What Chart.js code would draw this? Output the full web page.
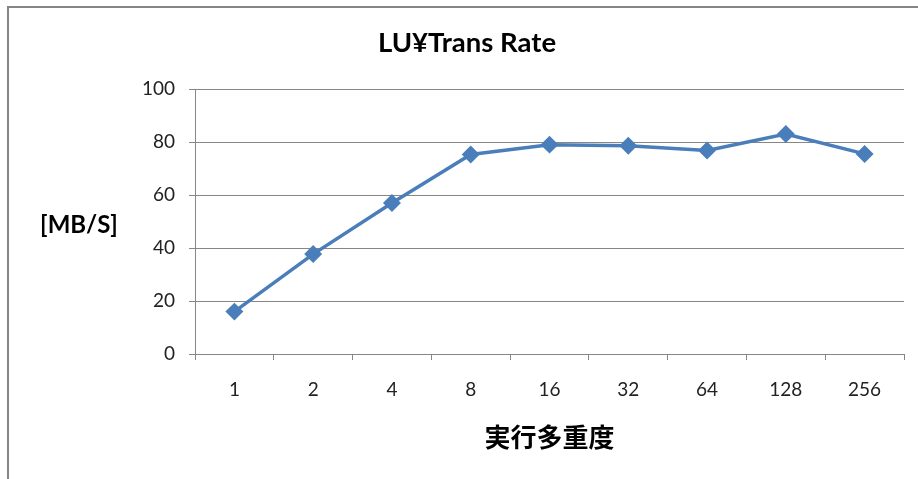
<!DOCTYPE html>
<html>
<head>
<meta charset="utf-8">
<script src="https://cdn.jsdelivr.net/npm/chart.js@4"></script>
<style>
  html, body { margin: 0; padding: 0; background: #fff; }
  #wrap { position: relative; width: 918px; height: 479px; }
  #frame {
    position: absolute; left: 7px; top: 6px; right: -4px; bottom: -4px;
    border-top: 2px solid #868686; border-left: 2px solid #868686;
  }
  canvas { position: absolute; left: 0; top: 0; }
</style>
</head>
<body>
<div id="wrap">
  <div id="frame"></div>
  <canvas id="chart" width="918" height="479"></canvas>
</div>
<script>
const categories = ["1", "2", "4", "8", "16", "32", "64", "128", "256"];
const transRate = [16, 37.7, 57, 75.3, 79, 78.6, 76.8, 83, 75.5];
const yTicks = [0, 20, 40, 60, 80, 100];

const latin = "Lato, 'Noto Sans', sans-serif";
const cjk = "'Noto Sans CJK JP', sans-serif";

// y axis caption is horizontal in the original, so draw it by hand
const yCaption = {
  id: "yCaption",
  afterDraw(chart) {
    const ctx = chart.ctx;
    ctx.save();
    ctx.font = "bold 24px " + latin;
    ctx.fillStyle = "#000";
    ctx.textAlign = "center";
    ctx.textBaseline = "middle";
    ctx.fillText("[MB/S]", 79, 225);
    ctx.restore();
  },
};

const ctx = document.getElementById("chart").getContext("2d");
new Chart(ctx, {
  type: "line",
  data: {
    labels: categories,
    datasets: [
      {
        label: "LU¥Trans Rate",
        data: transRate,
        borderColor: "#4a7ebb",
        backgroundColor: "#4a7ebb",
        borderWidth: 3.5,
        pointStyle: "rectRot",
        pointRadius: 6.5,
        pointHoverRadius: 6.5,
        tension: 0,
      },
    ],
  },
  plugins: [yCaption],
  options: {
    responsive: false,
    animation: false,
    layout: { padding: { left: 30, right: 14, top: 27, bottom: 0 } },
    plugins: {
      legend: { display: false },
      tooltip: { enabled: false },
      title: {
        display: true,
        text: "LU¥Trans Rate",
        color: "#000",
        font: { family: latin, size: 27.5, weight: "bold", lineHeight: 1.2 },
        padding: { top: 0, bottom: 29 },
      },
    },
    scales: {
      x: {
        afterFit: (s) => { s.height = 125; },
        offset: true,
        grid: {
          offset: true,
          drawOnChartArea: false,
          tickLength: 6,
          color: "#868686",
        },
        border: { color: "#868686", width: 1 },
        ticks: {
          color: "#222",
          padding: 18,
          font: { family: latin, size: 19 },
        },
        title: {
          display: true,
          text: "実行多重度",
          color: "#000",
          font: { family: cjk, size: 26, weight: "bold", lineHeight: 1.2 },
          padding: { top: 0, bottom: 26 },
        },
      },
      y: {
        min: 0,
        max: 100,
        afterFit: (s) => { s.width = 165; },
        afterBuildTicks: (s) => { s.ticks = yTicks.map((v) => ({ value: v })); },
        grid: { color: "#868686", tickLength: 6 },
        border: { color: "#868686", width: 1 },
        ticks: {
          color: "#222",
          padding: 14,
          font: { family: latin, size: 19 },
        },
      },
    },
  },
});
</script>
</body>
</html>
